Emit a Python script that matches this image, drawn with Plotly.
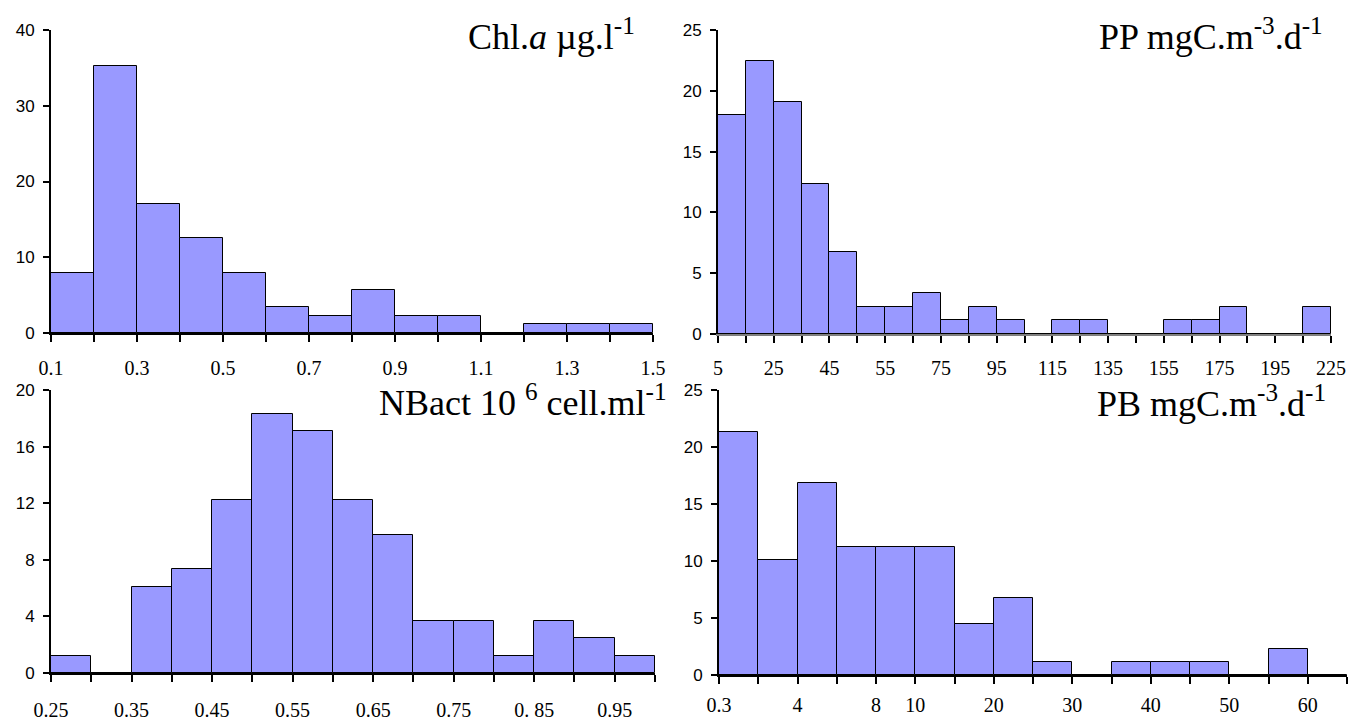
import plotly.graph_objects as go

W, H = 1357, 720          # browser window
OFF = 8                   # default page margin around the plot div
FW, FH = W - OFF, H - OFF  # figure size so it fits the window

# ---------------- data (percent of samples per bin) ----------------
chl_counts = [7.95, 35.23, 17.05, 12.50, 7.95, 3.41, 2.27, 5.68, 2.27, 2.27, 0.0, 1.14, 1.14, 1.14]
chl_labels = ["0.1", "0.3", "0.5", "0.7", "0.9", "1.1", "1.3", "1.5"]
chl_label_edges = [0, 2, 4, 6, 8, 10, 12, 14]
chl_yticks = [0, 10, 20, 30, 40]

pp_counts = [17.98, 22.47, 19.10, 12.36, 6.74, 2.25, 2.25, 3.37, 1.12, 2.25, 1.12, 0.0,
             1.12, 1.12, 0.0, 0.0, 1.12, 1.12, 2.25, 0.0, 0.0, 2.25]
pp_labels = ["5", "25", "45", "55", "75", "95", "115", "135", "155", "175", "195", "225"]
pp_label_edges = [0, 2, 4, 6, 8, 10, 12, 14, 16, 18, 20, 22]
pp_yticks = [0, 5, 10, 15, 20, 25]

nb_counts = [1.22, 0.0, 6.10, 7.32, 12.20, 18.29, 17.07, 12.20, 9.76, 3.66, 3.66, 1.22, 3.66, 2.44, 1.22]
nb_labels = ["0.25", "0.35", "0.45", "0.55", "0.65", "0.75", "0. 85", "0.95"]
nb_label_edges = [0, 2, 4, 6, 8, 10, 12, 14]
nb_yticks = [0, 4, 8, 12, 16, 20]

pb_counts = [21.35, 10.11, 16.85, 11.24, 11.24, 11.24, 4.49, 6.74, 1.12, 0.0, 1.12, 1.12, 1.12, 0.0, 2.25, 0.0]
pb_labels = ["0.3", "4", "8", "10", "20", "30", "40", "50", "60"]
pb_label_edges = [0, 2, 4, 5, 7, 9, 11, 13, 15]
pb_yticks = [0, 5, 10, 15, 20, 25]

titles = [
    "Chl.<i>a</i> µg.l<sup>-1</sup>",
    "PP mgC.m<sup>-3</sup>.d<sup>-1</sup>",
    "NBact 10 <sup>6</sup> cell.ml<sup>-1</sup>",
    "PB mgC.m<sup>-3</sup>.d<sup>-1</sup>",
]

# ---------------- layout helpers ----------------
BAR_FILL = "#9999FF"
SERIF = "Liberation Serif, Times New Roman, serif"
SANS = "Liberation Sans, Arial, sans-serif"


def fx(p):
    return (p - OFF) / FW


def fy(p):
    return 1 - (p - OFF) / FH


def px_x(a, b):
    return [fx(a), fx(b)]


def px_y(top, bottom):
    return [fy(bottom), fy(top)]


panels = [
    # counts, labels, label_edges, yticks, ymax, xdom(px), ydom(px), xline colour, xline width, label standoff
    (chl_counts, chl_labels, chl_label_edges, chl_yticks, 40, (51, 653), (30, 333), "black", 2.2, 9),
    (pp_counts, pp_labels, pp_label_edges, pp_yticks, 25, (718, 1331), (30, 334), "#808080", 1.6, 8),
    (nb_counts, nb_labels, nb_label_edges, nb_yticks, 20, (51, 655), (390, 673), "black", 1.6, 11),
    (pb_counts, pb_labels, pb_label_edges, pb_yticks, 25, (719, 1347), (390, 675), "black", 2.2, 4),
]

fig = go.Figure()
layout = dict(
    width=FW, height=FH,
    margin=dict(l=0, r=0, t=0, b=0, autoexpand=False),
    paper_bgcolor="white", plot_bgcolor="white",
    showlegend=False, bargap=0,
)

for i, (counts, labels, ledges, yt, ymax, xd, yd, xlc, xlw, stand) in enumerate(panels):
    k = "" if i == 0 else str(i + 1)
    n = len(counts)
    centers = [j + 0.5 for j in range(n)]
    fig.add_trace(go.Bar(
        x=centers, y=counts, width=[1.0] * n,
        marker=dict(color=BAR_FILL, line=dict(color="black", width=1)),
        xaxis="x" + k, yaxis="y" + k, hoverinfo="x+y",
    ))
    edges = list(range(n + 1))
    layout["xaxis" + k] = dict(
        domain=px_x(*xd), anchor="y" + k, range=[0, n],
        tickmode="array", tickvals=ledges, ticktext=labels,
        ticks="outside", ticklen=7, tickwidth=1.5, tickcolor="black",
        minor=dict(tickmode="array", tickvals=edges, ticks="outside",
                   ticklen=7, tickwidth=1.5, tickcolor="black", showgrid=False),
        showline=True, linecolor=xlc, linewidth=xlw,
        showgrid=False, zeroline=False, automargin=False,
        tickfont=dict(family=SERIF, size=20, color="black"),
        ticklabelstandoff=stand,
        fixedrange=True,
    )
    layout["yaxis" + k] = dict(
        domain=px_y(*yd), anchor="x" + k, range=[0, ymax],
        tickmode="array", tickvals=yt, ticktext=[str(v) for v in yt],
        ticks="outside", ticklen=6, tickwidth=1.5, tickcolor="black",
        showline=True, linecolor="black", linewidth=1.8,
        showgrid=False, zeroline=False, automargin=False,
        tickfont=dict(family=SANS, size=17, color="black"),
        ticklabelstandoff=5,
        fixedrange=True,
    )

# titles (right-aligned in each panel's upper right)
title_pos = [(637, 34), (1325, 34), (669, 400), (1328, 401)]
anns = []
for t, (xr, ym) in zip(titles, title_pos):
    anns.append(dict(
        text=t, xref="paper", yref="paper", x=fx(xr), y=fy(ym),
        xanchor="right", yanchor="middle", showarrow=False,
        font=dict(family=SERIF, size=36, color="black"),
    ))
layout["annotations"] = anns

fig.update_layout(**layout)
fig.write_html("out.html")
